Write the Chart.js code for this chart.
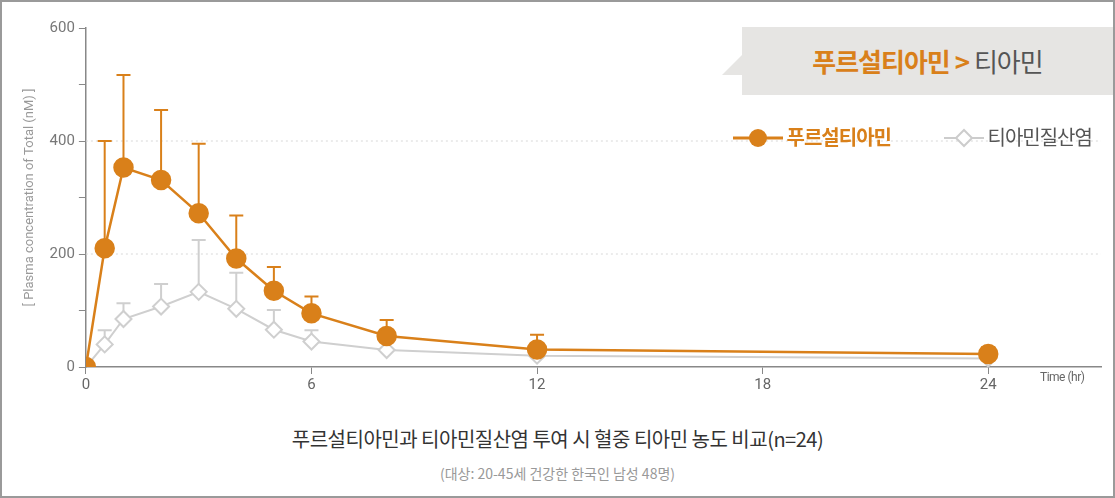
<!DOCTYPE html>
<html><head><meta charset="utf-8">
<script src="https://cdn.jsdelivr.net/npm/chart.js@4"></script>
<style>
body{margin:0;background:#fff;font-family:"Noto Sans CJK KR",sans-serif;}
#frame{position:absolute;left:0;top:0;width:1111px;height:494px;border:2px solid #9a9a9a;}
#wrap{position:absolute;left:0;top:0;width:1115px;height:400px;}
#callout{position:absolute;left:742px;top:27px;width:371px;height:68px;background:#e6e5e3;font-size:26px;font-weight:700;line-height:68px;text-align:center;letter-spacing:-1px;}
#callout:before{content:"";position:absolute;left:-20px;top:28px;border-right:20px solid #e6e5e3;border-top:20px solid transparent;border-bottom:0 solid transparent;}
.leg{position:absolute;top:125px;font-size:20px;line-height:24px;letter-spacing:-1px;}
#title{position:absolute;left:0;width:1115px;top:424px;text-align:center;font-size:20px;color:#333;letter-spacing:-0.5px;}
#sub{position:absolute;left:0;width:1115px;top:463px;text-align:center;font-size:14px;color:#999;}
#time{position:absolute;left:1040px;top:370px;font-size:12px;color:#666;font-family:Roboto,sans-serif;letter-spacing:-0.5px;}
</style></head><body>
<div id="frame"></div>
<div id="wrap"><canvas id="c" width="1115" height="400"></canvas></div>
<div id="callout"><span style="color:#d9801a">푸르설티아민</span> <span style="color:#d9801a">&gt;</span> <span style="color:#555;font-weight:400">티아민</span></div>
<div class="leg" style="left:733px;color:#d9801a;font-weight:700"><svg width="50" height="20" style="vertical-align:-3px"><line x1="0" y1="10" x2="50" y2="10" stroke="#d9801a" stroke-width="3"/><circle cx="25" cy="10" r="9" fill="#d9801a"/></svg> 푸르설티아민</div>
<div class="leg" style="left:944px;color:#555"><svg width="40" height="20" style="vertical-align:-3px"><line x1="0" y1="10" x2="40" y2="10" stroke="#ccc" stroke-width="2"/><path d="M20 2 L28 10 L20 18 L12 10 Z" fill="#fff" stroke="#ccc" stroke-width="2"/></svg> 티아민질산염</div>
<div id="time">Time (hr)</div>
<div id="title">푸르설티아민과 티아민질산염 투여 시 혈중 티아민 농도 비교(n=24)</div>
<div id="sub">(대상: 20-45세 건강한 한국인 남성 48명)</div>
<script>
const times=[0,0.5,1,2,3,4,5,6,8,12,24];
const fursultiamine=[0,210,353,331,272,192,135,95,55,31,23];
const fursultiamineUpper=[0,400,517,455,395,268,177,125,83,57,35];
const thiamine=[0,40,85,107,133,103,66,45,30,20,15];
const thiamineUpper=[0,65,113,147,225,167,101,65,45,28,22];
const xTicks=[0,6,12,18,24];
const yLabels=[0,200,400,600];
const orange='#d9801a', gray='#cfcfcf';
const errPlugin={id:'err',
 beforeDatasetsDraw(ch){const ctx=ch.ctx,x=ch.scales.x,y=ch.scales.y,a=ch.chartArea;
  ctx.save();ctx.strokeStyle='#d8d8d8';ctx.setLineDash([2,3]);ctx.lineWidth=1;
  [200,400].forEach(v=>{const py=y.getPixelForValue(v);ctx.beginPath();ctx.moveTo(a.left,py);ctx.lineTo(a.right,py);ctx.stroke();});
  ctx.setLineDash([]);
  [[thiamine,thiamineUpper,gray],[fursultiamine,fursultiamineUpper,orange]].forEach(([m,u,c])=>{
   ctx.strokeStyle=c;ctx.lineWidth=2;
   times.forEach((t,i)=>{if(u[i]<=m[i])return;const px=x.getPixelForValue(t),p1=y.getPixelForValue(m[i]),p2=y.getPixelForValue(u[i]);
    ctx.beginPath();ctx.moveTo(px,p1);ctx.lineTo(px,p2);ctx.moveTo(px-7,p2);ctx.lineTo(px+7,p2);ctx.stroke();});
  });ctx.restore();}};
new Chart(document.getElementById('c'),{type:'line',
 data:{datasets:[
  {label:'푸르설티아민',data:times.map((t,i)=>({x:t,y:fursultiamine[i]})),borderColor:orange,backgroundColor:orange,borderWidth:2.5,pointRadius:9,pointHoverRadius:9,pointStyle:'circle'},
  {label:'티아민질산염',data:times.map((t,i)=>({x:t,y:thiamine[i]})),borderColor:gray,backgroundColor:'#fff',borderWidth:2,pointRadius:8,pointBorderWidth:2,pointStyle:'rectRot'}
 ]},
 plugins:[errPlugin],
 options:{responsive:false,animation:false,devicePixelRatio:1,
  layout:{padding:{left:18,right:14,top:28,bottom:4}},
  plugins:{legend:{display:false},tooltip:{enabled:false}},
  scales:{
   x:{type:'linear',min:0,max:27,afterBuildTicks(s){s.ticks=xTicks.map(v=>({value:v}));},
    grid:{drawOnChartArea:false,color:'#888',tickLength:7},border:{color:'#888',width:1.5},
    ticks:{color:'#666',font:{family:'Roboto',size:15},padding:2,maxRotation:0}},
   y:{min:0,max:600,ticks:{stepSize:100,color:'#777',font:{family:'Roboto',size:15},padding:4,callback:v=>yLabels.includes(v)?v:''},
    grid:{drawOnChartArea:false,color:'#888',tickLength:7},border:{color:'#888',width:1.5},
    title:{display:true,text:'[ Plasma concentration of Total (nM) ]',color:'#999',font:{family:'Roboto',size:13},padding:{bottom:8}}}
  }}});
</script></body></html>
